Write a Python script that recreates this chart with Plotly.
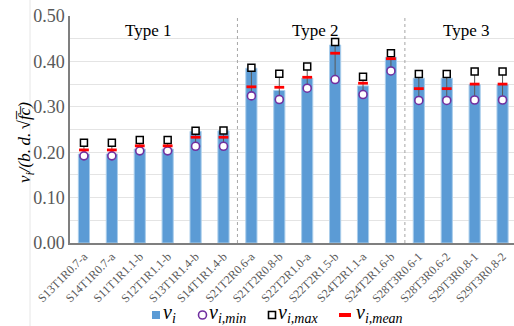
import plotly.graph_objects as go

specimens = [
    "S13T1R0.7-a", "S14T1R0.7-a", "S11T1R1.1-b", "S12T1R1.1-b", "S13T1R1.4-b", "S14T1R1.4-b",
    "S21T2R0.6-a", "S21T2R0.8-b", "S22T2R1.0-a", "S22T2R1.5-b", "S24T2R1.1-a", "S24T2R1.6-b",
    "S28T3R0.6-1", "S28T3R0.6-2", "S29T3R0.8-1", "S29T3R0.8-2",
]
v_i = [0.196, 0.196, 0.207, 0.207, 0.246, 0.247,
       0.385, 0.336, 0.363, 0.436, 0.346, 0.409,
       0.363, 0.363, 0.349, 0.349]
v_min = [0.192, 0.192, 0.203, 0.203, 0.213, 0.213,
         0.324, 0.316, 0.341, 0.360, 0.327, 0.379,
         0.314, 0.314, 0.315, 0.315]
v_max = [0.221, 0.221, 0.227, 0.227, 0.247, 0.248,
         0.386, 0.373, 0.389, 0.443, 0.366, 0.418,
         0.372, 0.372, 0.378, 0.378]
v_mean = [0.205, 0.205, 0.214, 0.214, 0.233, 0.233,
          0.344, 0.343, 0.365, 0.418, 0.352, 0.406,
          0.340, 0.340, 0.350, 0.350]
group_labels = ["Type 1", "Type 2", "Type 3"]
group_label_pos = [2.3, 8.3, 13.7]
group_breaks = [5.5, 11.5]
y_ticks = [0.0, 0.1, 0.2, 0.3, 0.4, 0.5]
legend_labels = ["<i>v<sub>i</sub></i>", "<i>v<sub>i,min</sub></i>",
                 "<i>v<sub>i,max</sub></i>", "<i>v<sub>i,mean</sub></i>"]

SERIF = "Liberation Serif, Times New Roman, serif"
BAR_BLUE = "#5B9BD5"
MIN_PURPLE = "#7030A0"
MEAN_RED = "#FF0000"

W, H = 514, 326
M_L, M_R, M_T, M_B = 70, 0, 16, 83
PW, PH = W - M_L - M_R, H - M_T - M_B


def px_x(px):
    return (px - M_L) / PW


def px_y(py):
    return (H - M_B - py) / PH


x = list(range(len(specimens)))

fig = go.Figure()

fig.add_trace(go.Bar(
    x=x, y=v_i, width=0.4,
    marker=dict(color=BAR_BLUE, line=dict(color="#A9CDEB", width=1)),
    name=legend_labels[0], showlegend=False,
))

# min-to-max whisker for each specimen
fig.add_trace(go.Scatter(
    x=x, y=v_min, mode="markers", marker=dict(size=0.1, color="rgba(0,0,0,0)"),
    error_y=dict(type="data", symmetric=False,
                 array=[mx - mn for mx, mn in zip(v_max, v_min)],
                 arrayminus=[0] * len(v_min),
                 color="#595959", thickness=1, width=0),
    showlegend=False, hoverinfo="skip",
))

fig.add_trace(go.Scatter(
    x=x, y=v_min, mode="markers", name=legend_labels[1], showlegend=False,
    marker=dict(symbol="circle", size=8, color="white",
                line=dict(color=MIN_PURPLE, width=1.6)),
))
fig.add_trace(go.Scatter(
    x=x, y=v_max, mode="markers", name=legend_labels[2], showlegend=False,
    marker=dict(symbol="square", size=7, color="white",
                line=dict(color="#000000", width=1.5)),
))
fig.add_trace(go.Scatter(
    x=x, y=v_mean, mode="markers", name=legend_labels[3], showlegend=False,
    marker=dict(symbol="line-ew", size=7, color=MEAN_RED,
                line=dict(color=MEAN_RED, width=2.8)),
))

for xb in group_breaks:
    fig.add_shape(type="line", xref="x", yref="y", x0=xb, x1=xb, y0=0, y1=0.5,
                  line=dict(color="#A6A6A6", width=1, dash="dot"), layer="above")

for lab, pos in zip(group_labels, group_label_pos):
    fig.add_annotation(x=pos, y=0.469, xref="x", yref="y", text=lab, showarrow=False,
                       font=dict(family=SERIF, size=17, color="#000000"))

# faint chart-area edge on the left
fig.add_shape(type="line", xref="paper", yref="paper", x0=px_x(30), x1=px_x(30),
              y0=px_y(H), y1=px_y(0), line=dict(color="#E6E6E6", width=1))

# y-axis title
fig.add_annotation(
    xref="paper", yref="paper", x=px_x(13), y=px_y(143), textangle=-90, showarrow=False,
    text="<i>v<sub>i</sub>/(b.\u2009d.\u2009√f\u0305c\u0305)</i>",
    font=dict(family=SERIF, size=17, color="#000000"),
)

# legend row: symbol + label for each series
LEG_Y = 315
legend_items = [
    # (symbol kind, symbol centre x, label left x)
    ("bar", 156, 161),
    ("min", 202.5, 207),
    ("max", 272, 276),
    ("mean", 345, 354),
]
for (kind, cx, tx), lab in zip(legend_items, legend_labels):
    sx, sy = px_x(cx), px_y(LEG_Y)
    common = dict(xref="paper", yref="paper", xsizemode="pixel", ysizemode="pixel",
                  xanchor=sx, yanchor=sy)
    if kind == "bar":
        fig.add_shape(type="rect", x0=-4, x1=4, y0=-4, y1=4,
                      fillcolor=BAR_BLUE, line=dict(width=0), **common)
    elif kind == "min":
        fig.add_shape(type="circle", x0=-4, x1=4, y0=-4, y1=4, fillcolor="white",
                      line=dict(color=MIN_PURPLE, width=1.6), **common)
    elif kind == "max":
        fig.add_shape(type="rect", x0=-3.5, x1=3.5, y0=-3.5, y1=3.5, fillcolor="white",
                      line=dict(color="#000000", width=1.6), **common)
    else:
        fig.add_shape(type="rect", x0=-6, x1=6, y0=-2, y1=2,
                      fillcolor=MEAN_RED, line=dict(width=0), **common)
    fig.add_annotation(xref="paper", yref="paper", x=px_x(tx), y=px_y(LEG_Y - 2),
                       xanchor="left", yanchor="middle", showarrow=False, text=lab,
                       font=dict(family=SERIF, size=20, color="#000000"))

fig.update_layout(
    width=W, height=H,
    margin=dict(l=M_L, r=M_R, t=M_T, b=M_B, autoexpand=False),
    paper_bgcolor="white", plot_bgcolor="white",
    showlegend=False,
    xaxis=dict(
        tickmode="array", tickvals=x, ticktext=specimens, tickangle=-45,
        range=[-0.5, 15.41], showgrid=False, zeroline=False, automargin=False,
        showline=True, linecolor="#7F7F7F", linewidth=1.5, mirror=False,
        tickfont=dict(family=SERIF, size=12, color="#595959"),
        ticks="",
    ),
    yaxis=dict(
        range=[0, 0.5], tickvals=y_ticks, ticktext=[f"{t:.2f}" for t in y_ticks],
        tickfont=dict(family=SERIF, size=18, color="#595959"),
        showgrid=True, gridcolor="#E4E4E4", gridwidth=1, automargin=False,
        minor=dict(dtick=0.05, tick0=0, showgrid=True, gridcolor="#E4E4E4", gridwidth=1),
        zeroline=False, showline=True, linecolor="#7F7F7F", linewidth=1.5, mirror=True,
        ticks="",
    ),
)

fig.write_html("out.html")
